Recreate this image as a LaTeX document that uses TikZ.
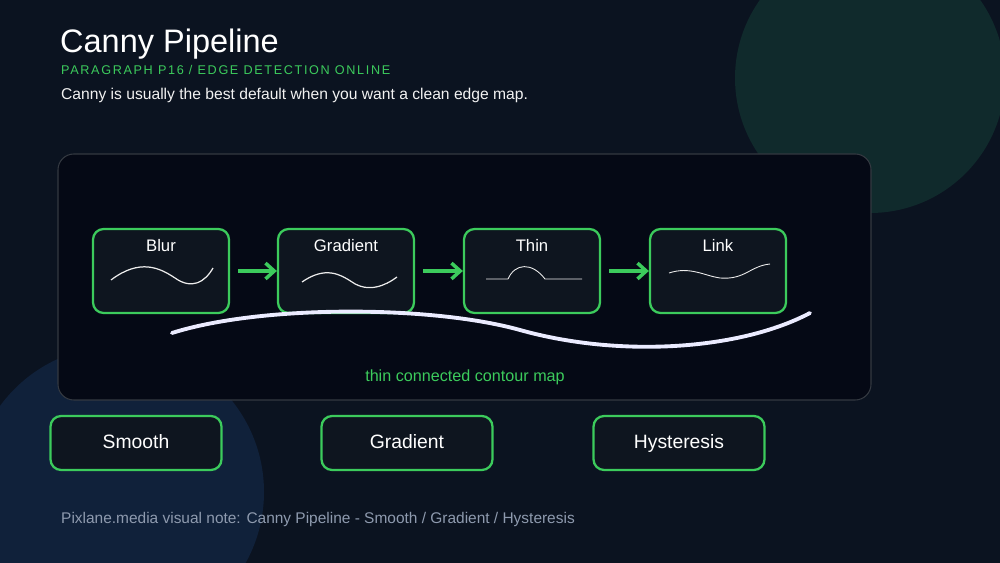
\documentclass[tikz,border=0pt]{standalone}
\usepackage{fontspec}
\setmainfont{Liberation Sans}
\usetikzlibrary{positioning}
\usetikzlibrary{arrows.meta}
\definecolor{bgdark}{HTML}{0B1320}
\definecolor{paneldark}{HTML}{050915}
\definecolor{edgegreen}{HTML}{3CCB5C}
\definecolor{boxfill}{HTML}{0E151F}
\definecolor{subtext}{HTML}{8E9AAE}
\definecolor{discgreen}{HTML}{102A2C}
\definecolor{discblue}{HTML}{10213A}

\begin{document}
\begin{tikzpicture}[x=0.02cm,y=-0.02cm,
	stage/.style={draw=edgegreen,line width=1.3pt,fill=boxfill,rounded corners=6pt,minimum width=2.72cm,minimum height=1.68cm,inner sep=0pt},
	summary/.style={draw=edgegreen,line width=1.3pt,fill=boxfill,rounded corners=6pt,minimum width=3.42cm,minimum height=1.08cm,text=white,text height=8pt,text depth=2pt,font=\fontsize{11}{12}\selectfont},
	flow/.style={-{Straight Barb[length=5pt,width=9pt]},edgegreen,line width=2pt,shorten <=4.5pt,shorten >=0pt},
	wave/.style={white!85!gray,line width=0.7pt}]

	%background and the two soft discs
	\fill[bgdark] (0,0) rectangle (1000,563);
	\useasboundingbox (0,0) rectangle (1000,563);
	\fill[discgreen] (870,78) circle (135);
	\fill[discblue] (118,492) circle (146);

	%heading
	\node[anchor=west,text=white,font=\fontsize{18.5}{20}\selectfont] (title) at (54,44) {Canny Pipeline};
	\node[anchor=west,text=edgegreen,font=\fontsize{7.2}{8}\selectfont] (kicker) at (55,70) {\addfontfeature{LetterSpace=13}PARAGRAPH P16 / EDGE DETECTION ONLINE};
	\node[anchor=west,text=white!90!gray,font=\fontsize{8.9}{10}\selectfont] (lead) at (55,95) {Canny is usually the best default when you want a clean edge map.};

	%dark panel
	\filldraw[fill=paneldark,draw=gray!35!bgdark,line width=0.6pt,rounded corners=9pt] (58,154) rectangle (871,400);

	%pipeline stages
	\node[stage] (blur) at (161,271) {};
	\node[stage] (grad) at (346,271) {};
	\node[stage] (thin) at (532,271) {};
	\node[stage] (link) at (718,271) {};
	\foreach \n/\t in {blur/Blur,grad/Gradient,thin/Thin,link/Link}
		\node[text=white,font=\fontsize{9.5}{10}\selectfont] (\n-label) at ([yshift=-0.36cm]\n.north) {\t};

	\draw[flow] (blur) -- (grad);
	\draw[flow] (grad) -- (thin);
	\draw[flow] (thin) -- (link);

	%sketch of each stage
	\draw[wave] (111,280) .. controls (140,258) and (160,268) .. (175,278) .. controls (192,290) and (205,282) .. (213,268);
	\draw[wave] (302,282) .. controls (325,266) and (340,274) .. (352,282) .. controls (368,293) and (385,286) .. (397,277);
	\draw[wave,line width=0.5pt] (486,279) -- (508,279) .. controls (515,263) and (532,262) .. (545,279) -- (582,279);
	\draw[wave,line width=0.5pt] (669,273) .. controls (690,266) and (705,276) .. (720,278) .. controls (745,280) and (750,266) .. (770,264);

	%long contour under the stages
	\draw[white!92!blue,line width=2.2pt,line cap=round] (172,333) .. controls (260,305) and (430,305) .. (520,330) .. controls (620,358) and (740,350) .. (810,313);
	\node[text=edgegreen,font=\fontsize{9.2}{10}\selectfont] (contour) at (465,377) {thin connected contour map};

	%summary steps
	\node[summary] (smooth) at (136,443) {Smooth};
	\node[summary] (gradstep) at (407,443) {Gradient};
	\node[summary] (hyst) at (679,443) {Hysteresis};

	\node[anchor=west,text=subtext,font=\fontsize{8.8}{10}\selectfont] (footer) at (55,520) {Pixlane.media visual note: Canny Pipeline - Smooth / Gradient / Hysteresis};
\end{tikzpicture}
\end{document}
